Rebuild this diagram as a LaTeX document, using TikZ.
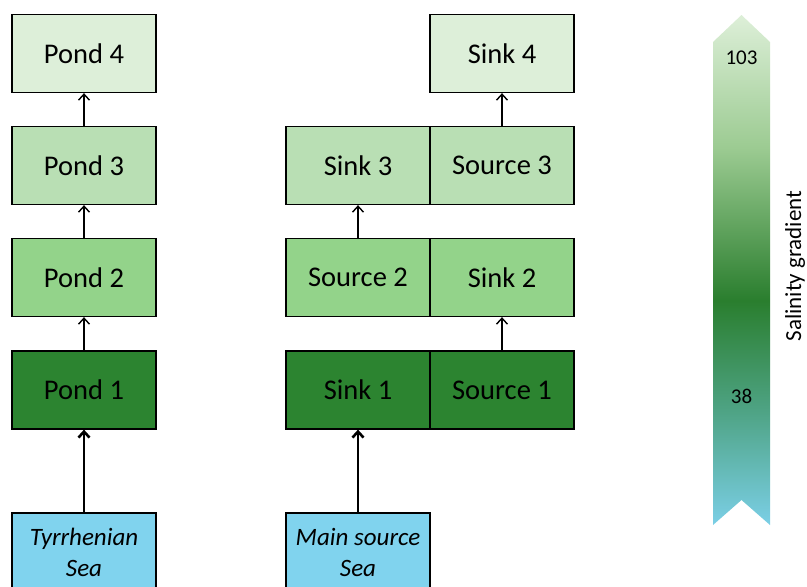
\documentclass[tikz,border=0pt]{standalone}
\usepackage{fontspec}
\setmainfont{Carlito}
\usetikzlibrary{arrows.meta}
\definecolor{pfour}{HTML}{DDEFD9}
\definecolor{pthree}{HTML}{B9DFB4}
\definecolor{ptwo}{HTML}{93D38A}
\definecolor{pone}{HTML}{2C8430}
\definecolor{sea}{HTML}{80D3EE}
\definecolor{gLight}{HTML}{DDEFD8}
\definecolor{gMid}{HTML}{9CCB92}
\definecolor{gDark}{HTML}{2A7E2E}
\definecolor{gTeal}{HTML}{4FA486}
\definecolor{gBlue}{HTML}{7BCFE6}
\pgfdeclareverticalshading{salin}{100bp}{color(0bp)=(gBlue); color(25bp)=(gBlue); color(36bp)=(gTeal); color(47bp)=(gDark); color(62bp)=(gMid); color(75bp)=(gLight); color(100bp)=(gLight)}
\tikzset{
  box/.style={draw=black, line width=1.3pt, minimum width=144pt, minimum height=78pt, inner sep=0pt, font=\fontsize{28.5}{31}\selectfont, text=black, align=center},
  seabox/.style={box, fill=sea, font=\fontsize{25}{31}\selectfont\itshape},
  thin arrow/.style={draw=black, line width=1.2pt, -{Straight Barb[length=6pt,width=11pt,line width=1.4pt]}},
  thick arrow/.style={draw=black, line width=2.8pt, -{Straight Barb[length=6pt,width=11pt,line width=2.6pt]}}
}
\begin{document}
\begin{tikzpicture}[x=1pt,y=-1pt]
\useasboundingbox (0,0) rectangle (807,587);
% left column
\node[box, fill=pfour] (p4) at (84,53.5) {Pond 4};
\node[box, fill=pthree] (p3) at (84,165.5) {Pond 3};
\node[box, fill=ptwo] (p2) at (84,277.5) {Pond 2};
\node[box, fill=pone] (p1) at (84,390) {Pond 1};
\node[seabox] (ts) at (84,552) {Tyrrhenian\\Sea};
% right column
\node[box, fill=pfour] (k4) at (502,53.5) {Sink 4};
\node[box, fill=pthree] (k3) at (358,165.5) {Sink 3};
\node[box, fill=pthree] (s3) at (502,165.5) {Source 3};
\node[box, fill=ptwo] (s2) at (358,277.5) {Source 2};
\node[box, fill=ptwo] (k2) at (502,277.5) {Sink 2};
\node[box, fill=pone] (k1) at (358,390) {Sink 1};
\node[box, fill=pone] (s1) at (502,390) {Source 1};
\node[seabox] (ms) at (358,552) {Main source\\Sea};
% arrows
\draw[thin arrow] (p3.north) -- (p4.south);
\draw[thin arrow] (p2.north) -- (p3.south);
\draw[thin arrow] (p1.north) -- (p2.south);
\draw[thick arrow] (ts.north) -- (p1.south);
\draw[thin arrow] (s3.north) -- (k4.south);
\draw[thin arrow] (s2.north) -- (k3.south);
\draw[thin arrow] (s1.north) -- (k2.south);
\draw[thick arrow] (ms.north) -- (k1.south);
% gradient arrow
\path[shading=salin] (713,42) -- (741.5,15) -- (770,42) -- (770,525) -- (741.5,500) -- (713,525) -- cycle;
\node[font=\fontsize{21}{24}\selectfont] (n103) at (741.5,58) {103};
\node[font=\fontsize{21}{24}\selectfont] (n38) at (741.5,396) {38};
\node[rotate=90, inner sep=0pt, font=\fontsize{23}{26}\selectfont] (lab) at (795,266) {Salinity gradient};
\end{tikzpicture}
\end{document}
